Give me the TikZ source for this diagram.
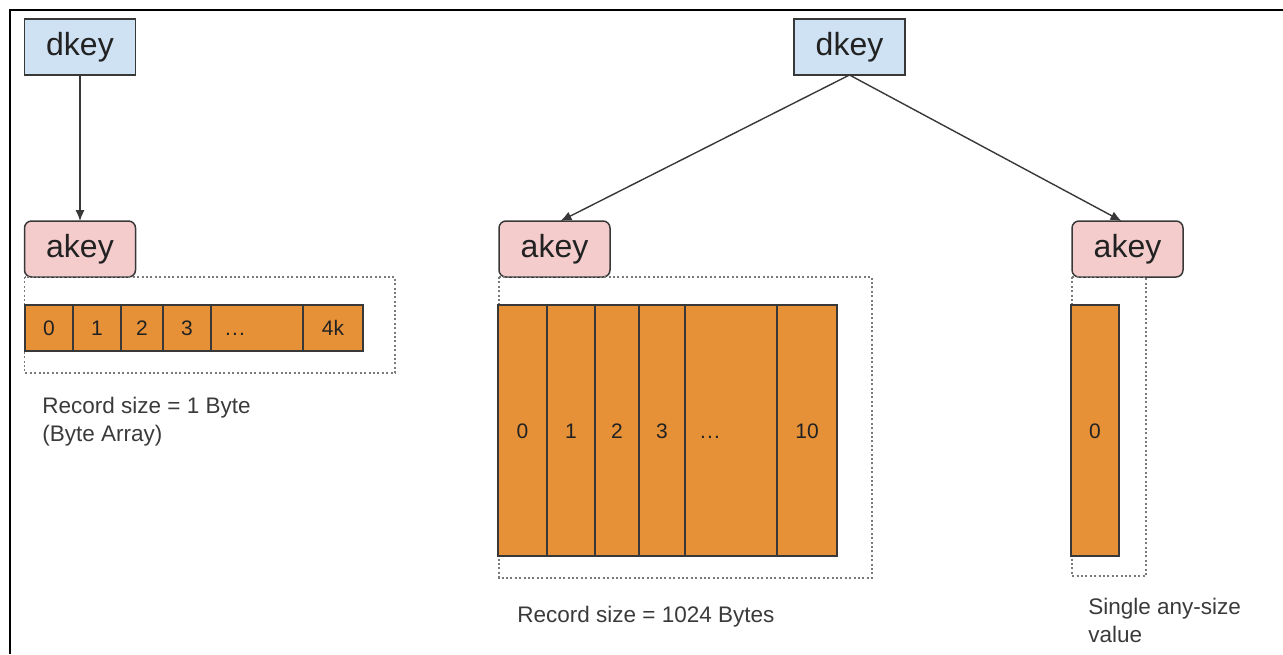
\documentclass[tikz,border=0pt]{standalone}
\usepackage{fontspec}
\setmainfont{Liberation Sans}
\usepackage{xcolor}
\usetikzlibrary{positioning,arrows.meta}
\definecolor{keyblue}{HTML}{CFE2F3}
\definecolor{keypink}{HTML}{F4CCCC}
\definecolor{cellorange}{HTML}{E69138}
\definecolor{edge}{HTML}{383838}
\definecolor{ink}{HTML}{222222}
\definecolor{notegray}{HTML}{3A3A3A}
\definecolor{dotgray}{HTML}{7A7A7A}
\tikzset{
  frame/.style={draw=black, line width=1pt},
  dkeybox/.style={draw=edge, fill=keyblue, line width=0.75pt, minimum width=55.5pt, minimum height=28pt,
    inner sep=0pt, outer sep=0pt, text=ink, font=\fontsize{16}{18}\selectfont},
  akeybox/.style={dkeybox, fill=keypink, rounded corners=3.5pt},
  celltext/.style={text=ink, font=\fontsize{10.5}{12}\selectfont, text height=7.6pt, text depth=0pt},
  cellbox/.style={draw=edge, fill=cellorange, line width=0.75pt, inner sep=0pt, outer sep=0pt, celltext},
  grpbox/.style={draw=dotgray, line width=0.6pt, dash pattern=on 1pt off 1.2pt},
  link/.style={draw=edge, line width=0.7pt, -{Latex[length=5.5pt,width=4.6pt]}},
  note/.style={text=notegray, font=\fontsize{11.25}{13.75}\selectfont, align=left, anchor=north west, inner sep=0pt},
}
\begin{document}
\begin{tikzpicture}[x={(0.5pt,0)}, y={(0,-0.5pt)}]
  \useasboundingbox (0,0) rectangle (1283,654);
  \draw[frame] (10,654) -- (10,10) -- (1283,10);

  % keys
  \node[dkeybox] (dk1) at (80,47) {dkey};
  \node[akeybox] (ak1) at (80,249) {akey};
  \node[dkeybox] (dk2) at (849.5,47) {dkey};
  \node[akeybox] (ak2) at (554.5,249) {akey};
  \node[akeybox] (ak3) at (1127.5,249) {akey};

  \draw[link] (dk1.south) -- (ak1.north);
  \draw[link] (dk2.south) -- ([xshift=3pt]ak2.north);
  \draw[link] (dk2.south) -- ([xshift=-3pt]ak3.north);

  % byte array
  \draw[grpbox] (ak1.south west) rectangle (395,373);
  \node[cellbox, anchor=west, minimum width=24pt, minimum height=23pt] (c10) at (25,328) {0};
  \node[cellbox, right=0pt of c10, minimum width=24pt, minimum height=23pt] (c11) {1};
  \node[cellbox, right=0pt of c11, minimum width=21pt, minimum height=23pt] (c12) {2};
  \node[cellbox, right=0pt of c12, minimum width=24pt, minimum height=23pt] (c13) {3};
  \node[cellbox, right=0pt of c13, minimum width=46pt, minimum height=23pt,
    label={[celltext, xshift=-11pt]center:{.\kern0.6pt.\kern0.6pt.}}] (c1d) {};
  \node[cellbox, right=0pt of c1d, minimum width=30pt, minimum height=23pt] (c1k) {4k};
  \node[note] (n1) at (42,397) {Record size = 1 Byte\\(Byte Array)};

  % fixed records
  \draw[grpbox] (ak2.south west) rectangle (872,578);
  \node[cellbox, anchor=west, minimum width=24.5pt, minimum height=125.5pt] (c20) at (498,430.5) {0};
  \node[cellbox, right=0pt of c20, minimum width=24pt, minimum height=125.5pt] (c21) {1};
  \node[cellbox, right=0pt of c21, minimum width=22pt, minimum height=125.5pt] (c22) {2};
  \node[cellbox, right=0pt of c22, minimum width=23pt, minimum height=125.5pt] (c23) {3};
  \node[cellbox, right=0pt of c23, minimum width=46pt, minimum height=125.5pt,
    label={[celltext, xshift=-10.5pt]center:{.\kern0.6pt.\kern0.6pt.}}] (c2d) {};
  \node[cellbox, right=0pt of c2d, minimum width=30pt, minimum height=125.5pt] (c2k) {10};
  \node[note] (n2) at (517,606) {Record size = 1024 Bytes};

  % single value
  \draw[grpbox] (ak3.south west) rectangle (1146,576);
  \node[cellbox, anchor=west, minimum width=24pt, minimum height=125.5pt] (c30) at (1071,430.5) {0};
  \node[note] (n3) at (1088,598) {Single any-size\\value};
\end{tikzpicture}
\end{document}
